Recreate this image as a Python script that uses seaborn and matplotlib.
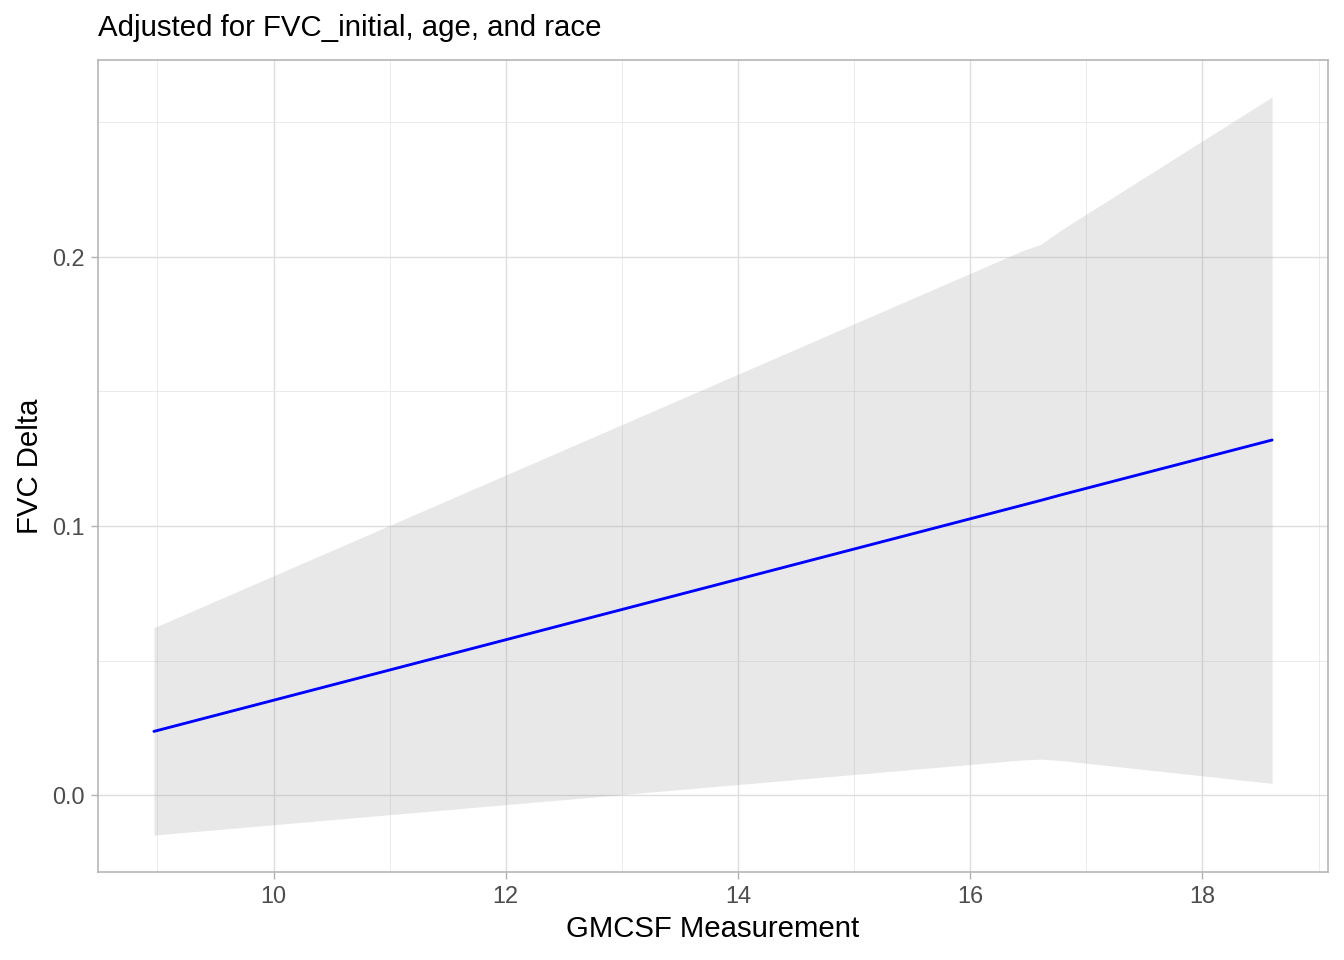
"""Adjusted effect of GMCSF on FVC delta, drawn in a ggplot theme_light look."""

import matplotlib
matplotlib.use("Agg")
import matplotlib.pyplot as plt
import numpy as np
import pandas as pd
import seaborn as sns
from matplotlib.ticker import MultipleLocator

# values
gmcsf = [8.97, 16.45, 16.61, 16.78, 18.60]
fvc_fit = [0.0237, 0.1077, 0.1095, 0.1115, 0.1319]
fvc_lower = [-0.0148, 0.0131, 0.0134, 0.0129, 0.0044]
fvc_upper = [0.0622, 0.2022, 0.2046, 0.2098, 0.2593]

x_ticks = [10, 12, 14, 16, 18]
y_ticks = [0.0, 0.1, 0.2]

TITLE = "Adjusted for FVC_initial, age, and race"
X_LABEL = "GMCSF Measurement"
Y_LABEL = "FVC Delta"

W, H = 1344, 960
DPI = 192

sns.set_style("white")
plt.rcParams["font.family"] = ["Liberation Sans", "DejaVu Sans"]

frame = pd.DataFrame(
    {"gmcsf": gmcsf, "fit": fvc_fit, "lower": fvc_lower, "upper": fvc_upper}
)

fig = plt.figure(figsize=(W / DPI, H / DPI), dpi=DPI)
ax = fig.add_axes([98 / W, 1 - 872 / H, (1328 - 98) / W, (872 - 60) / H])

ax.fill_between(frame["gmcsf"], frame["lower"], frame["upper"],
                color="#999999", alpha=0.22, linewidth=0, zorder=2)
sns.lineplot(data=frame, x="gmcsf", y="fit", color="#0000FF",
             linewidth=1.07, ax=ax, zorder=3)

# ggplot style 5% expansion around the data
x_lo, x_hi = min(gmcsf), max(gmcsf)
y_lo, y_hi = min(fvc_lower), max(fvc_upper)
ax.set_xlim(x_lo - 0.05 * (x_hi - x_lo), x_hi + 0.05 * (x_hi - x_lo))
ax.set_ylim(y_lo - 0.05 * (y_hi - y_lo), y_hi + 0.05 * (y_hi - y_lo))

ax.set_xticks(x_ticks)
ax.set_yticks(y_ticks)
ax.set_yticklabels([f"{v:.1f}" for v in y_ticks])
ax.xaxis.set_minor_locator(MultipleLocator(1))
ax.yaxis.set_minor_locator(MultipleLocator(0.05))

ax.grid(which="major", color="#DEDEDE", linewidth=0.53, zorder=0)
ax.grid(which="minor", color="#E6E6E6", linewidth=0.3, zorder=0)
ax.set_axisbelow(True)

for spine in ax.spines.values():
    spine.set_color("#B3B3B3")
    spine.set_linewidth(0.6)

ax.tick_params(which="major", length=2.75, width=0.53, color="#B3B3B3",
               labelsize=8.8, labelcolor="#4D4D4D", pad=2.2,
               bottom=True, left=True)
ax.tick_params(which="minor", length=0)

ax.set_xlabel("")
ax.set_ylabel("")

fig.text(98 / W, 1 - 36 / H, TITLE, fontsize=11, color="black",
         ha="left", va="baseline")
fig.text(713 / W, 1 - 937 / H, X_LABEL, fontsize=11, color="black",
         ha="center", va="baseline")
fig.text(38 / W, 1 - 466 / H, Y_LABEL, fontsize=11, color="black",
         ha="center", va="baseline", rotation=90, rotation_mode="anchor")

fig.savefig("out.png", dpi=DPI)
plt.close(fig)
